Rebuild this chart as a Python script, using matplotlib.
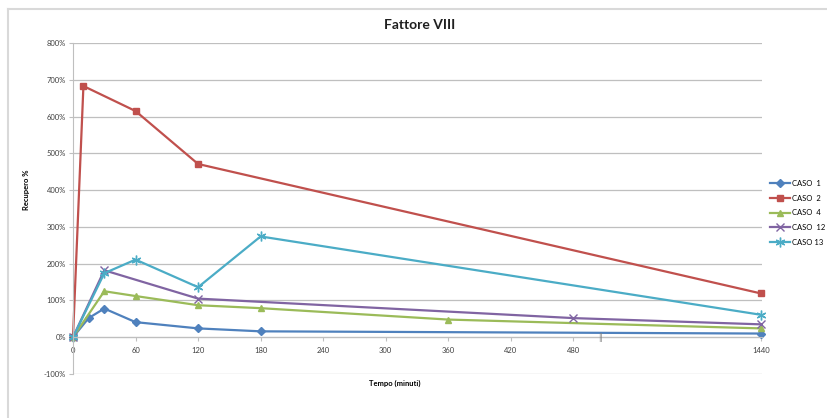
import matplotlib.pyplot as plt
from matplotlib.lines import Line2D
from matplotlib.ticker import FuncFormatter

# tempi (minuti) e recupero %
t_caso1 = [0, 15, 30, 60, 120, 180, 1440]
caso1 = [0, 52, 78, 41, 24, 16, 10]
t_caso2 = [0, 10, 60, 120, 1440]
caso2 = [0, 683, 615, 471, 119]
t_caso4 = [0, 30, 60, 120, 180, 360, 1440]
caso4 = [0, 125, 112, 87, 79, 48, 24]
t_caso12 = [0, 30, 120, 480, 1440]
caso12 = [0, 182, 105, 52, 35]
t_caso13 = [0, 30, 60, 120, 180, 1440]
caso13 = [0, 174, 211, 136, 274, 61]

xticks = [0, 60, 120, 180, 240, 300, 360, 420, 480, 1440]
yticks = [-100, 0, 100, 200, 300, 400, 500, 600, 700, 800]


def xmap(t):
    # asse spezzato: dopo 480 min la scala viene compressa
    return t if t <= 480 else 480 + (t - 480) * 180 / 960


plt.rcParams['font.family'] = ['Lato', 'DejaVu Sans']

fig = plt.figure(figsize=(8.28, 4.18), dpi=100)
ax = fig.add_axes([73 / 828, 1 - 374 / 418, 689 / 828, 331 / 418])

series = [
    ('CASO  1', t_caso1, caso1, '#4F81BD', 'D', 4),
    ('CASO  2', t_caso2, caso2, '#C0504D', 's', 5),
    ('CASO  4', t_caso4, caso4, '#9BBB59', '^', 5),
    ('CASO  12', t_caso12, caso12, '#8064A2', 'x', 6),
    ('CASO 13', t_caso13, caso13, '#4BACC6', (6, 2, 0), 7),
]
for name, t, v, col, mk, ms in series:
    ax.plot([xmap(x) for x in t], v, color=col, lw=1.6, marker=mk,
            markersize=ms, markeredgewidth=1, label=name, clip_on=False)

ax.set_xlim(0, 661)
ax.set_ylim(-100, 800)
ax.set_yticks(yticks)
ax.yaxis.set_major_formatter(FuncFormatter(lambda v, p: f'{v:.0f}%'))
ax.set_xticks([xmap(x) for x in xticks])
ax.set_xticklabels([str(x) for x in xticks])
ax.grid(axis='y', color='#bfbfbf', lw=0.9)
ax.set_axisbelow(True)

for s in ['top', 'right']:
    ax.spines[s].set_visible(False)
ax.spines['bottom'].set_position(('data', 0))
ax.spines['bottom'].set_color('#bfbfbf')
ax.spines['left'].set_color('#bfbfbf')
ax.tick_params(axis='both', labelsize=5.5, colors='#404040', length=3,
               width=0.8, pad=2)
ax.tick_params(axis='x', color='#bfbfbf', pad=4)
ax.tick_params(axis='y', color='#bfbfbf')

# segno di interruzione dell'asse
ax.text(xmap(480) + 26, 0, '||', ha='center', va='center', fontsize=6.5,
        color='#808080')

fig.text(420 / 828, 1 - 25 / 418, 'Fattore VIII', ha='center', va='center',
         fontsize=10, fontweight='bold', color='#202020')
fig.text(395 / 828, 1 - 383 / 418, 'Tempo (minuti)', ha='center', va='center',
         fontsize=5.5, fontweight='bold')
fig.text(27 / 828, 1 - 190 / 418, 'Recupero %', ha='center', va='center',
         fontsize=5.5, fontweight='bold', rotation=90)

ax.legend(loc='upper left', bbox_to_anchor=(770 / 828, 1 - 180 / 418),
          bbox_transform=fig.transFigure, frameon=False, fontsize=5.5,
          handlelength=2.6, handletextpad=0.3, labelspacing=1.0,
          borderaxespad=0, borderpad=0)

# cornice dell'area del grafico
fig.add_artist(Line2D([8 / 828, 8 / 828], [0, 1 - 9 / 418],
                      transform=fig.transFigure, color='#d9d9d9', lw=1.5))
fig.add_artist(Line2D([8 / 828, 1], [1 - 9 / 418, 1 - 9 / 418],
                      transform=fig.transFigure, color='#d9d9d9', lw=1.5))

fig.savefig('out.png', dpi=100)
